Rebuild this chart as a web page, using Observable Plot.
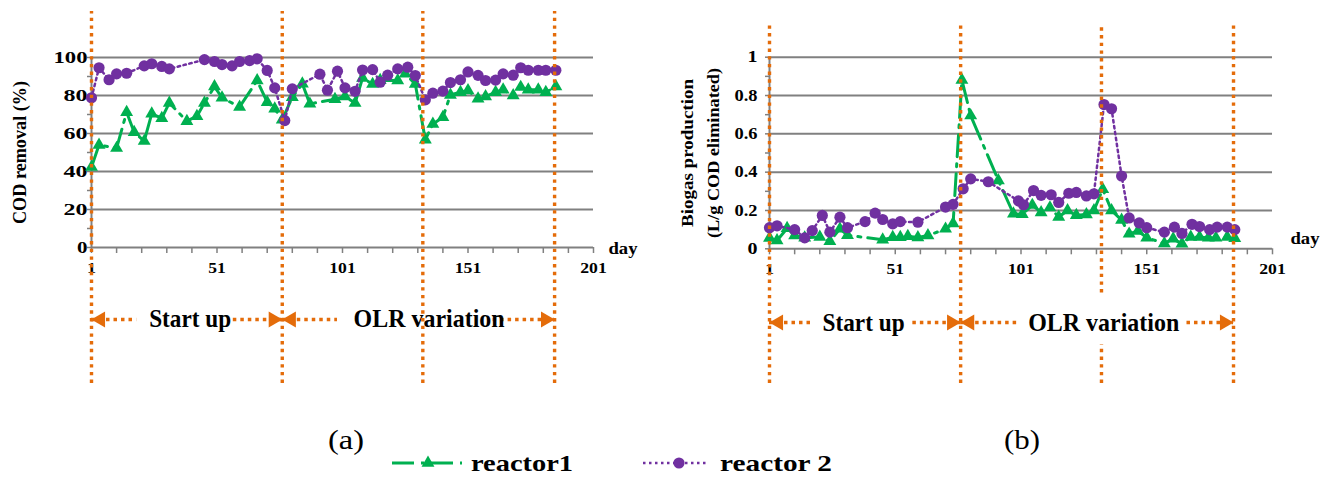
<!DOCTYPE html>
<html>
<head>
<meta charset="utf-8">
<script src="https://cdn.jsdelivr.net/npm/d3@7"></script>
<script src="https://cdn.jsdelivr.net/npm/@observablehq/plot@0.6"></script>
<style>
  html, body { margin: 0; padding: 0; background: #fff; }
  #wrap { position: relative; width: 1338px; height: 477px; overflow: hidden; background: #fff; }
  #wrap > svg { position: absolute; top: 0; }
</style>
</head>
<body>
<div id="wrap"></div>
<script>
// ---------------- DATA ----------------
const seriesNames = ["reactor1", "reactor 2"];
const panelLabels = ["(a)", "(b)"];
const xTitle = "day";
const codYTitle = "COD removal (%)";
const gasYTitle = ["Biogas production", "(L/g COD eliminated)"];
const phaseNames = ["Start up", "OLR variation"];
const phaseDays = [1, 77, 133, 185.5];

const xDomain = [1, 201];
const xMinorTicks = d3.range(1, 202, 10);
const xTickLabels = [1, 51, 101, 151, 201];

const codYTicks = [0, 20, 40, 60, 80, 100];
const codYMinor = d3.range(0, 101, 10);
const gasYTicks = [0, 0.2, 0.4, 0.6, 0.8, 1];
const gasYTickLabels = ["0", "0.2", "0.4", "0.6", "0.8", "1"];
const gasYMinor = d3.range(0, 11).map(i => i / 10);

// (a) COD removal (%)
const codDaysR1 = [1,4,11,15,18,22,25,29,32,39,43,46,50,53,60,67,71,74,77,81,85,88,98,102,106,109,113,116,123,126,130,134,137,141,144,148,151,155,158,162,165,169,172,175,179,182,186];
const codR1 = [42.3,54,52.3,71.2,60.7,56,70.4,68,76.1,66.5,69.1,76.1,84.7,78.8,74,87.9,76.5,73,67.2,79.1,86.2,75.6,78,79.5,76,89.2,86,88,87.9,91.5,86,56.7,65,68.6,80.3,81.7,82.6,78.3,79.5,81.7,83,80,84.4,83,83,81.7,84.7];
const codDaysR2 = [1,4,8,11,15,22,25,29,32,46,50,53,57,60,64,67,71,74,78,81,92,95,99,102,106,109,113,116,119,123,127,130,134,137,141,144,148,151,155,158,162,165,169,172,175,179,182,186];
const codR2 = [78.8,94.6,88.3,91.4,91.7,95.6,96.7,95.3,94,98.9,97.9,96.3,95.6,97.9,98.4,99.3,93.2,84,66.8,83.5,91.2,82.8,92.8,84,82.2,93.4,93.6,87,90.7,94,94.9,90.5,77.7,81.2,82.3,86.8,88.3,92.4,90.6,87.9,88.1,91.4,90.7,94.6,93.3,93.3,93.3,93.3];

// (b) Biogas production (L/g COD eliminated)
const gasDaysR1 = [1,4,8,11,15,21,25,29,32,46,50,53,56,60,64,71,74,77.5,81,92,98,101.5,105.5,109,112.5,116,119.5,123,127,130,133.5,137,141,144,147.5,151,158,161.5,165,168.5,172,175.5,178.5,183,186];
const gasR1 = [0.056,0.043,0.107,0.069,0.058,0.062,0.039,0.104,0.071,0.047,0.06,0.06,0.066,0.059,0.069,0.104,0.132,0.881,0.695,0.357,0.183,0.18,0.228,0.19,0.215,0.166,0.2,0.175,0.179,0.2,0.311,0.2,0.15,0.078,0.093,0.058,0.028,0.052,0.026,0.062,0.062,0.057,0.057,0.062,0.055];
const gasDaysR2 = [1,4,11,15,18,22,25,29,32,39,43,46,50,53,60,71,74,78,81,88,100,102,106,109,113,116,120,123,127,130,134,137,141,144,148,151,158,162,165,169,172,176,179,183,186];
const gasR2 = [0.11,0.12,0.10,0.057,0.095,0.174,0.087,0.165,0.11,0.142,0.186,0.153,0.13,0.142,0.139,0.218,0.232,0.313,0.365,0.35,0.25,0.23,0.304,0.279,0.282,0.242,0.29,0.294,0.276,0.287,0.753,0.731,0.38,0.161,0.135,0.11,0.087,0.113,0.08,0.128,0.116,0.1,0.113,0.113,0.1];

// ---------------- STYLE / LAYOUT ----------------
const serif = "Liberation Serif, Times New Roman, Tinos, serif";
const GREEN = "#00B050", PURPLE = "#7030A0", ORANGE = "#E46C0A", GRAY = "#808080";
const PW = 669, PH = 477;
const greenDash = "22,7,3,7", purpleDash = "2.5,3.5";

const rows = (days, vals) => days.map((d, i) => ({day: d, v: vals[i]}));

function fitTicks(svg, axis, lenOf, fallbackSet) {
  let sel = d3.select(svg).selectAll(`g[aria-label="${axis}-axis tick label"] text`);
  if (sel.empty() && fallbackSet) sel = d3.select(svg).selectAll("text").filter(function () { return fallbackSet.has(this.textContent); });
  sel.each(function () {
    const s = this.textContent;
    if (!s) return;
    const len = lenOf(s);
    if (len) { this.setAttribute("textLength", len); this.setAttribute("lengthAdjust", "spacingAndGlyphs"); }
  });
}
function fitText(svg, content, len) {
  d3.select(svg).selectAll("text").filter(function () { return this.textContent === content; })
    .attr("textLength", len).attr("lengthAdjust", "spacingAndGlyphs");
}
const xLen = s => s.length === 1 ? 9 : s.length === 2 ? 17.5 : 26.5;

function panel(cfg) {
  const ys = d3.scaleLinear().domain(cfg.yDomain).range([PH - cfg.mb, cfg.mt]);
  const yAt = px => ys.invert(px);
  const [d0, d1] = xDomain;
  const r1 = rows(cfg.r1Days, cfg.r1Vals), r2 = rows(cfg.r2Days, cfg.r2Vals);
  const a = cfg.ann;
  const aY = yAt(a.arrowPx), tY = yAt(a.textPx);
  const marks = [
    Plot.ruleY(cfg.yTicks.slice(1), {x1: d0, x2: d1, stroke: GRAY, strokeWidth: 2}),
    Plot.ruleY([cfg.yDomain[0]], {x1: d0, x2: d1, stroke: GRAY, strokeWidth: 2}),
    Plot.ruleX([d0], {y1: cfg.yDomain[0], y2: cfg.yDomain[1], stroke: GRAY, strokeWidth: 2}),
    Plot.axisY({ticks: cfg.yMinor, label: null, tickSize: 4, tickPadding: cfg.yPad, tickFormat: cfg.yFormat,
      stroke: GRAY, strokeWidth: 1.5, fill: "#000", fontSize: 16, fontWeight: "bold", fontFamily: serif}),
    Plot.axisX({ticks: xMinorTicks, label: null, tickSize: 6, tickPadding: 9,
      tickFormat: d => xTickLabels.includes(d) ? String(d) : "",
      stroke: GRAY, strokeWidth: 1.5, fill: "#000", fontSize: 15, fontWeight: "bold", fontFamily: serif}),
    Plot.text([xTitle], {text: d => d, x: () => d1, y: () => cfg.yDomain[0], dx: cfg.dayDx, dy: cfg.dayDy,
      textAnchor: "start", lineAnchor: "bottom", fontSize: 16, fontWeight: "bold", fontFamily: serif, fill: "#000"}),
    // reactor1
    Plot.line(r1, {x: "day", y: "v", stroke: GREEN, strokeWidth: 3, strokeDasharray: greenDash}),
    Plot.dot(r1, {x: "day", y: "v", symbol: "triangle", r: 4.8, fill: GREEN}),
    // reactor 2
    Plot.line(r2, {x: "day", y: "v", stroke: PURPLE, strokeWidth: 2.5, strokeDasharray: purpleDash}),
    Plot.dot(r2, {x: "day", y: "v", r: 5.6, fill: PURPLE}),
    // phase annotations
    Plot.ruleY(a.segs, {x1: s => s[0], x2: s => s[1], y: () => aY, stroke: ORANGE, strokeWidth: 3.5, strokeDasharray: "3.5,4"}),
    Plot.dot([phaseDays[0], phaseDays[1]], {x: d => d, y: () => aY, symbol: "triangle", rotate: -90, r: 5.9, fill: ORANGE, dx: 9}),
    Plot.dot([phaseDays[1], phaseDays[3]], {x: d => d, y: () => aY, symbol: "triangle", rotate: 90, r: 5.9, fill: ORANGE, dx: -9}),
    Plot.text(phaseNames, {text: d => d, x: (d, i) => a.centers[i], y: () => tY, lineAnchor: "bottom", textAnchor: "middle",
      fontSize: 26, fontWeight: "bold", fontFamily: serif, fill: "#000"}),
    Plot.ruleX(cfg.vlines, {x: d => d.x, y1: d => yAt(d.b), y2: d => yAt(d.t), stroke: ORANGE, strokeWidth: 3.4, strokeDasharray: "3.4,4.3"}),
    // y title(s)
    ...cfg.titles.map(t => Plot.text([t.text], {text: d => d, frameAnchor: "left", textAnchor: "middle", lineAnchor: "middle",
      dx: t.dx, rotate: -90, fontSize: t.fs, fontWeight: "bold", fontFamily: serif, fill: "#000"}))
  ];
  const svg = Plot.plot({
    width: PW, height: PH,
    marginLeft: cfg.ml, marginRight: cfg.mr, marginTop: cfg.mt, marginBottom: cfg.mb,
    x: {domain: xDomain, label: null},
    y: {domain: cfg.yDomain, label: null},
    style: {background: "transparent", fontFamily: serif, overflow: "visible", color: "#000"},
    marks
  });
  fitTicks(svg, "y", cfg.yLen, new Set(cfg.yLabelSet));
  fitTicks(svg, "x", xLen, null);
  fitText(svg, xTitle, 29);
  cfg.titles.forEach(t => fitText(svg, t.text, t.len));
  a.lens.forEach((len, i) => fitText(svg, phaseNames[i], len));
  svg.style.left = cfg.left + "px";
  return svg;
}

const wrap = document.getElementById("wrap");

wrap.appendChild(panel({
  left: 0, ml: 91, mr: 76, mt: 57, mb: 230,
  yDomain: [0, 100], yTicks: codYTicks, yMinor: codYMinor, yPad: 0,
  yLen: s => s.length === 1 ? 10.5 : s.length === 2 ? 24 : 34,
  yFormat: d => codYTicks.includes(d) ? String(d) : "",
  yLabelSet: codYTicks.map(String),
  r1Days: codDaysR1, r1Vals: codR1, r2Days: codDaysR2, r2Vals: codR2,
  dayDx: 15, dayDy: 6,
  ann: {arrowPx: 319, textPx: 326.5, segs: [[1, 19], [57.5, 77], [77, 99], [161, 185.5]], centers: [40.3, 135.5], lens: [82, 151]},
  vlines: phaseDays.map(x => ({x, b: 383, t: 11})),
  titles: [{text: codYTitle, dx: -71.5, fs: 18, len: 143}]
}));

wrap.appendChild(panel({
  left: PW, ml: 100, mr: 66, mt: 56.7, mb: 228.7,
  yDomain: [0, 1], yTicks: gasYTicks, yMinor: gasYMinor, yPad: 8,
  yLen: s => s.length === 1 ? 10 : 23,
  yFormat: d => { const i = gasYTicks.findIndex(t => Math.abs(t - d) < 1e-9); return i >= 0 ? gasYTickLabels[i] : ""; },
  yLabelSet: gasYTickLabels,
  r1Days: gasDaysR1, r1Vals: gasR1, r2Days: gasDaysR2, r2Vals: gasR2,
  dayDx: 18, dayDy: -5.3,
  ann: {arrowPx: 322, textPx: 330, segs: [[1, 18], [58, 77], [77, 100], [167, 185.5]], centers: [38.4, 133.9], lens: [82, 151]},
  vlines: [
    {x: phaseDays[0], b: 383, t: 25}, {x: phaseDays[1], b: 383, t: 25},
    {x: phaseDays[2], b: 383, t: 344}, {x: phaseDays[2], b: 292.5, t: 25},
    {x: phaseDays[3], b: 383, t: 25}
  ],
  titles: [
    {text: gasYTitle[0], dx: -81.5, fs: 16, len: 148},
    {text: gasYTitle[1], dx: -55.5, fs: 16, len: 170}
  ]
}));

// ---------------- panel labels + legend ----------------
const ov = d3.create("svg").attr("width", 1338).attr("height", 477)
  .style("left", "0px").style("pointer-events", "none").style("overflow", "visible");
ov.append("text").attr("x", 346).attr("y", 449).attr("text-anchor", "middle")
  .attr("font-family", serif).attr("font-size", 28).attr("textLength", 36).attr("lengthAdjust", "spacingAndGlyphs").text(panelLabels[0]);
ov.append("text").attr("x", 1022).attr("y", 449).attr("text-anchor", "middle")
  .attr("font-family", serif).attr("font-size", 28).attr("textLength", 36).attr("lengthAdjust", "spacingAndGlyphs").text(panelLabels[1]);

const LY = 463;
// reactor1
ov.append("line").attr("x1", 392).attr("x2", 462).attr("y1", LY).attr("y2", LY)
  .attr("stroke", GREEN).attr("stroke-width", 3).attr("stroke-dasharray", greenDash);
ov.append("path").attr("d", d3.symbol(d3.symbolTriangle, Math.PI * 4.8 * 4.8)())
  .attr("transform", `translate(428,${LY})`).attr("fill", GREEN);
ov.append("text").attr("x", 471).attr("y", 471).attr("font-family", serif).attr("font-weight", "bold")
  .attr("font-size", 24).attr("textLength", 102).attr("lengthAdjust", "spacingAndGlyphs").text(seriesNames[0]);
// reactor 2
ov.append("line").attr("x1", 643).attr("x2", 709).attr("y1", LY).attr("y2", LY)
  .attr("stroke", PURPLE).attr("stroke-width", 2.5).attr("stroke-dasharray", purpleDash);
ov.append("circle").attr("cx", 679).attr("cy", LY).attr("r", 5.6).attr("fill", PURPLE);
ov.append("text").attr("x", 720).attr("y", 471).attr("font-family", serif).attr("font-weight", "bold")
  .attr("font-size", 24).attr("textLength", 112).attr("lengthAdjust", "spacingAndGlyphs").text(seriesNames[1]);

wrap.appendChild(ov.node());
</script>
</body>
</html>
